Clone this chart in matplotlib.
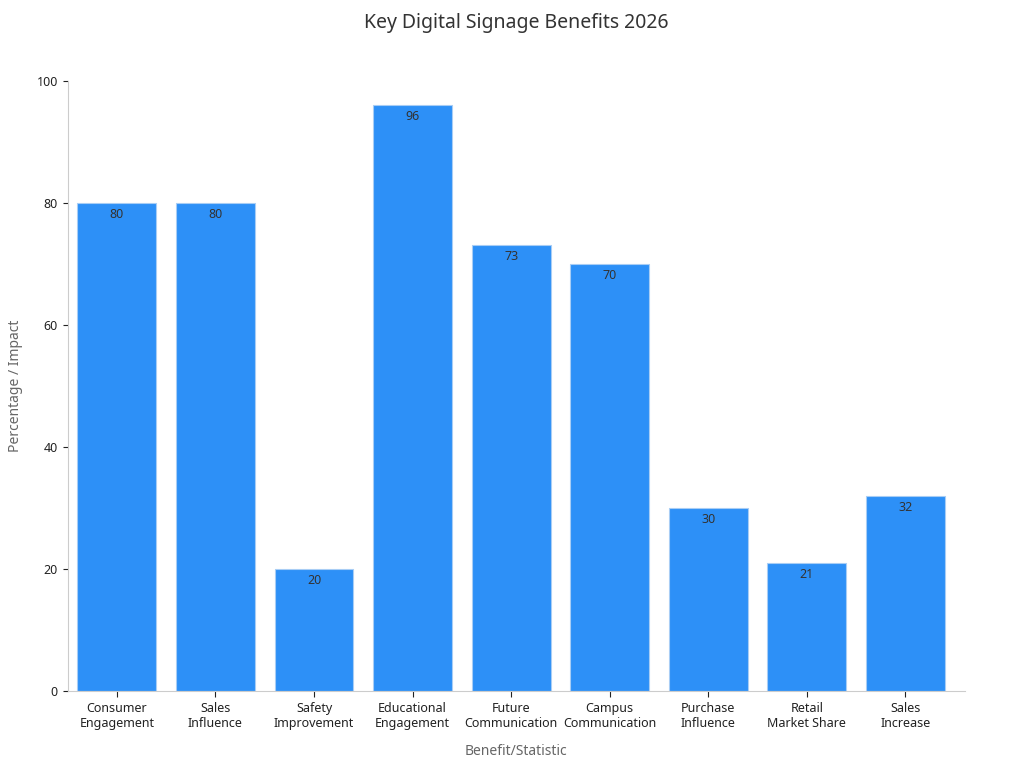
import matplotlib.pyplot as plt

categories = ['Consumer\nEngagement', 'Sales\nInfluence', 'Safety\nImprovement', 'Educational\nEngagement',
              'Future\nCommunication', 'Campus\nCommunication', 'Purchase\nInfluence', 'Retail\nMarket Share',
              'Sales\nIncrease']
values = [80, 80, 20, 96, 73, 70, 30, 21, 32]

plt.rcParams['font.family'] = ['Noto Sans', 'DejaVu Sans']
fig, ax = plt.subplots(figsize=(10.24, 7.68), dpi=100)
fig.subplots_adjust(left=0.066, right=0.942, top=0.895, bottom=0.1)

x = range(len(values))
bars = ax.bar(x, values, width=0.8, color='#2d90f7', edgecolor='#a8cdf5', linewidth=0.8)
for i, v in enumerate(values):
    ax.text(i, v - 0.8, str(v), ha='center', va='top', fontsize=9, color='#333333')

ax.set_xlim(-0.5, len(values) - 0.4)
ax.set_ylim(0, 100)
ax.set_xticks(list(x))
ax.set_xticklabels(categories, fontsize=9, color='#222222')
ax.set_yticks([0, 20, 40, 60, 80, 100])
ax.tick_params(axis='y', labelsize=9, colors='#222222')
ax.tick_params(axis='x', length=4, colors='#222222')
ax.set_xlabel('Benefit/Statistic', fontsize=10, color='#666666', labelpad=10)
ax.set_ylabel('Percentage / Impact', fontsize=10, color='#666666', labelpad=10)
ax.set_title('Key Digital Signage Benefits 2026', fontsize=14, color='#333333', pad=38)
for s in ['top', 'right']:
    ax.spines[s].set_visible(False)
for s in ['left', 'bottom']:
    ax.spines[s].set_color('#cccccc')

fig.savefig('out.png')
